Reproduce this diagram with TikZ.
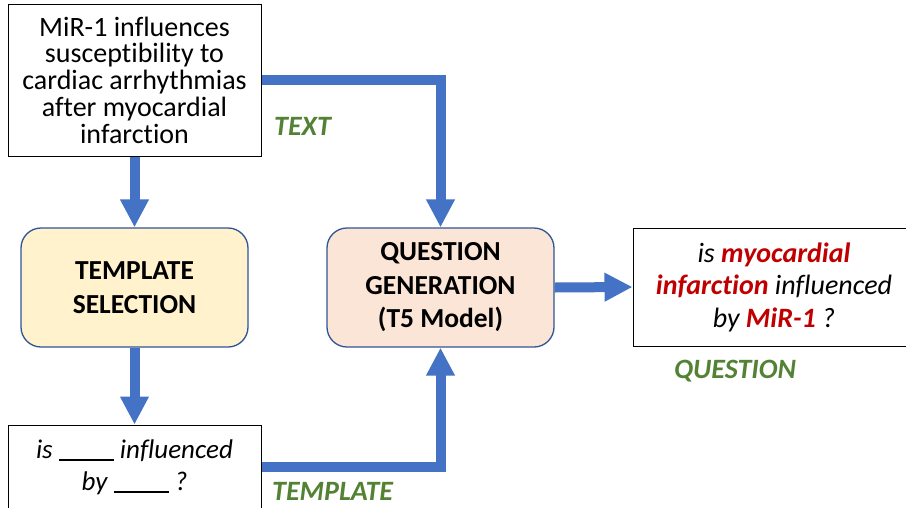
\documentclass[tikz,border=0pt]{standalone}
\usepackage{fontspec}
\setmainfont{Carlito}[Ligatures=NoCommon]
\usetikzlibrary{arrows.meta}
\definecolor{arrowblue}{HTML}{4472C4}
\definecolor{edgeblue}{HTML}{2F5597}
\definecolor{lblgreen}{HTML}{548235}
\definecolor{hired}{HTML}{C00000}
\definecolor{yellowfill}{HTML}{FFF2CC}
\definecolor{peachfill}{HTML}{FBE5D6}
\newcommand{\blankline}{\rule[-2.5pt]{55pt}{1.4pt}}
\begin{document}
\begin{tikzpicture}[x=1pt,y=-1pt,
  plainbox/.style={draw=black, line width=1pt, fill=white, inner sep=0pt, align=center},
  procbox/.style={draw=edgeblue, line width=1.3pt, rounded corners=20pt, inner sep=0pt, align=center,
     minimum width=227pt, minimum height=119pt, font=\fontsize{27.5}{33.5}\selectfont\bfseries},
  flow/.style={draw=arrowblue, line width=10pt, -{Triangle[width=27pt,length=28pt]}},
  lbl/.style={text=lblgreen, font=\fontsize{28}{30}\selectfont\bfseries\itshape, inner sep=0pt, anchor=base west}]
\useasboundingbox (0,0) rectangle (906,507);
\clip (0,0) rectangle (906,507);
\node[plainbox, minimum width=253pt, minimum height=152pt, font=\fontsize{28}{26.7}\selectfont] (src) at (134.5,80)
  {MiR-1 influences\\susceptibility to\\cardiac arrhythmias\\after myocardial\\infarction};
\node[procbox, fill=yellowfill] (tsel) at (134.5,287.5) {TEMPLATE\\SELECTION};
\node[procbox, fill=peachfill] (qg) at (440.5,287.5) {QUESTION\\GENERATION\\(T5 Model)};
\node[plainbox, minimum width=282pt, minimum height=118pt, font=\fontsize{28}{32.5}\selectfont\itshape] (q) at (774,287)
  {is \textcolor{hired}{\bfseries myocardial}\\\textcolor{hired}{\bfseries infarction} influenced\\by \textcolor{hired}{\bfseries MiR-1} ?};
\node[plainbox, minimum width=253pt, minimum height=84pt, font=\fontsize{27}{32}\selectfont\itshape] (tmpl) at (134.5,467)
  {is \blankline{} influenced\\by \blankline{} ?};
\draw[flow] (src.east) -| (qg.north);
\draw[flow] (src.south) -- (tsel.north);
\draw[flow] (tsel.south) -- (tmpl.north);
\draw[flow] (tmpl.east) -| (qg.south);
\draw[flow] (qg.east) -- (q.west);
\node[lbl] (ltext) at (274,135) {TEXT};
\node[lbl] (ltmpl) at (272,500) {TEMPLATE};
\node[lbl] (lq) at (674,378) {QUESTION};
\end{tikzpicture}
\end{document}
